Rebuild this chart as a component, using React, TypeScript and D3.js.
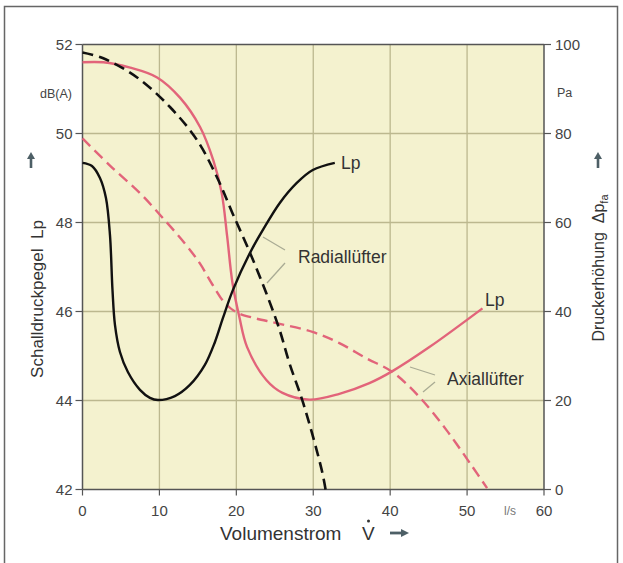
import React from "react";
import * as d3 from "d3";

// ---- data (x in l/s) ----
const xTicks = [0, 10, 20, 30, 40, 50, 60];
const leftTicks = [42, 44, 46, 48, 50, 52];
const rightTicks = [0, 20, 40, 60, 80, 100];

// Radiallüfter sound level Lp (dB(A))
const radialLpX = [0, 1.23, 2.27, 3.05, 3.57, 3.9, 4.22, 4.87, 5.9, 7.47, 8.77, 9.81, 12.01, 13.96, 15.91, 17.21, 18.25, 19.55, 21.75, 23.44, 25.65, 27.86, 29.94, 32.8];
const radialLpY = [49.34, 49.27, 49.0, 48.55, 47.72, 46.48, 45.7, 45.09, 44.64, 44.24, 44.06, 44.01, 44.1, 44.35, 44.8, 45.31, 45.85, 46.48, 47.31, 47.83, 48.44, 48.89, 49.18, 49.34];

// Radiallüfter pressure (Pa)
const radialPX = [0, 2.7, 7.1, 11.4, 14.9, 17.5, 19.5, 21.8, 23.9, 25.6, 26.9, 28.7, 31.1, 31.6];
const radialPY = [98.2, 96.9, 92.6, 85.9, 78.5, 70.1, 62.1, 53.1, 44.1, 36.0, 28.4, 19.4, 4.4, 0];

// Axiallüfter sound level Lp (dB(A))
const axialLpX = [0, 2.7, 6.2, 9.7, 12.7, 15.3, 17.0, 18.1, 18.8, 19.5, 20.4, 21.4, 23.9, 26.0, 29.5, 33.4, 37.3, 40.3, 45.1, 52.0];
const axialLpY = [51.6, 51.6, 51.48, 51.26, 50.8, 50.14, 49.4, 48.66, 47.7, 46.64, 45.87, 45.2, 44.46, 44.17, 44.02, 44.15, 44.39, 44.66, 45.2, 46.07];

// Axiallüfter pressure (Pa)
const axialPX = [0, 3.57, 7.47, 10.71, 13.31, 15.26, 16.95, 18.51, 20.06, 22.4, 25.2, 29.9, 33.4, 36.9, 40.3, 43.8, 47.3, 50.7, 52.6];
const axialPY = [78.9, 72.8, 66.6, 60.5, 55.3, 50.8, 45.9, 41.9, 39.8, 38.5, 37.4, 35.4, 32.9, 29.5, 26.4, 20.8, 13.4, 5.1, 0.3];

const RED = "#e2647a";
const GRID = "#bcb88f";
const AXIS = "#555";
const TXT = "#333";
const ARROW = "#4d5f66";
const FONT = "'Liberation Sans', Arial, Helvetica, sans-serif";

export default function App() {
  const x = d3.scaleLinear().domain([0, 60]).range([82.5, 544]);
  const yL = d3.scaleLinear().domain([42, 52]).range([489.5, 44.5]);
  const yR = d3.scaleLinear().domain([0, 100]).range([489.5, 44.5]);

  const curve = d3.curveCatmullRom.alpha(0.5);
  const lineL = d3
    .line<[number, number]>()
    .x((d) => x(d[0]))
    .y((d) => yL(d[1]))
    .curve(curve);
  const lineR = d3
    .line<[number, number]>()
    .x((d) => x(d[0]))
    .y((d) => yR(d[1]))
    .curve(curve);

  const zip = (a: number[], b: number[]) => a.map((v, i) => [v, b[i]] as [number, number]);

  const x0 = x(0), x1 = x(60), yTop = yL(52), yBot = yL(42);

  return (
    <svg
      width={623}
      height={563}
      style={{ position: "absolute", left: 0, top: 0, background: "#fff" }}
      fontFamily={FONT}
    >
      {/* outer frame */}
      <rect x={4.5} y={6.5} width={613} height={600} fill="none" stroke="#666" strokeWidth={1.5} />

      {/* plot background */}
      <rect x={x0} y={yTop} width={x1 - x0} height={yBot - yTop} fill="#f4f2cf" />

      {/* grid */}
      {xTicks.slice(1, -1).map((t) => (
        <line key={"gx" + t} x1={x(t)} x2={x(t)} y1={yTop} y2={yBot} stroke={GRID} strokeWidth={1.3} />
      ))}
      {leftTicks.slice(1, -1).map((t) => (
        <line key={"gy" + t} x1={x0} x2={x1} y1={yL(t)} y2={yL(t)} stroke={GRID} strokeWidth={1.3} />
      ))}

      {/* axes */}
      <line x1={x0} x2={x0} y1={yTop} y2={yBot} stroke={AXIS} strokeWidth={1.5} />
      <line x1={x1} x2={x1} y1={yTop} y2={yBot} stroke={AXIS} strokeWidth={1.5} />
      <line x1={x0} x2={x1} y1={yBot} y2={yBot} stroke={AXIS} strokeWidth={1.5} />
      <line x1={x0} x2={x1} y1={yTop} y2={yTop} stroke={AXIS} strokeWidth={1.5} />

      {leftTicks.map((t) => (
        <g key={"lt" + t}>
          <line x1={x0 - 7} x2={x0} y1={yL(t)} y2={yL(t)} stroke={AXIS} strokeWidth={1.2} />
          <text x={x0 - 10} y={yL(t)} dy="0.36em" textAnchor="end" fontSize={15} fill="#444">
            {t}
          </text>
        </g>
      ))}
      {rightTicks.map((t) => (
        <g key={"rt" + t}>
          <line x1={x1} x2={x1 + 7} y1={yR(t)} y2={yR(t)} stroke={AXIS} strokeWidth={1.2} />
          <text x={x1 + 11} y={yR(t)} dy="0.36em" textAnchor="start" fontSize={15} fill="#444">
            {t}
          </text>
        </g>
      ))}
      {xTicks.map((t) => (
        <g key={"xt" + t}>
          <line x1={x(t)} x2={x(t)} y1={yBot} y2={yBot + 6} stroke={AXIS} strokeWidth={1.2} />
          <text x={x(t)} y={yBot + 21} dy="0.36em" textAnchor="middle" fontSize={15} fill="#444">
            {t}
          </text>
        </g>
      ))}
      <text x={510} y={yBot + 21} dy="0.36em" textAnchor="middle" fontSize={12} fill="#777">
        l/s
      </text>

      {/* units */}
      <text x={72} y={93} dy="0.36em" textAnchor="end" fontSize={12.5} fill="#444">
        dB(A)
      </text>
      <text x={557} y={92} dy="0.36em" textAnchor="start" fontSize={12.5} fill="#444">
        Pa
      </text>

      {/* axis titles */}
      <text
        transform="translate(43,299) rotate(-90)"
        textAnchor="middle"
        fontSize={17}
        fill={TXT}
        xmlSpace="preserve"
      >
        Schalldruckpegel  Lp
      </text>
      <g transform="translate(31,160)">
        <path d="M0,8 L0,-2" stroke={ARROW} strokeWidth={2.6} />
        <path d="M-4,-1 L0,-8 L4,-1 Z" fill={ARROW} />
      </g>

      <text
        transform="translate(604,268) rotate(-90)"
        textAnchor="middle"
        fontSize={16}
        fill={TXT}
        xmlSpace="preserve"
      >
        Druckerhöhung  Δp
        <tspan fontSize={11} dy={4}>fa</tspan>
      </text>
      <g transform="translate(598,160)">
        <path d="M0,8 L0,-2" stroke={ARROW} strokeWidth={2.6} />
        <path d="M-4,-1 L0,-8 L4,-1 Z" fill={ARROW} />
      </g>

      <text x={220} y={540} fontSize={19} fill={TXT}>
        Volumenstrom
      </text>
      <text x={362} y={540} fontSize={19} fill={TXT}>
        V
      </text>
      <circle cx={368.5} cy={521} r={1.5} fill={TXT} />
      <g transform="translate(400,533)">
        <path d="M-10,0 L2,0" stroke={ARROW} strokeWidth={2.8} />
        <path d="M1,-4 L9,0 L1,4 Z" fill={ARROW} />
      </g>

      {/* curves */}
      <path d={lineR(zip(axialPX, axialPY)) || ""} fill="none" stroke={RED} strokeWidth={2.4} strokeDasharray="11,6" />
      <path d={lineL(zip(axialLpX, axialLpY)) || ""} fill="none" stroke={RED} strokeWidth={2.4} />
      <path d={lineR(zip(radialPX, radialPY)) || ""} fill="none" stroke="#111" strokeWidth={2.6} strokeDasharray="11,6" />
      <path d={lineL(zip(radialLpX, radialLpY)) || ""} fill="none" stroke="#111" strokeWidth={2.4} />

      {/* leader lines */}
      <g stroke="#a9ab94" strokeWidth={1.3}>
        <line x1={263} y1={237} x2={285} y2={250} />
        <line x1={285} y1={263} x2={267} y2={283} />
        <line x1={410} y1={367} x2={435} y2={375} />
        <line x1={435} y1={382} x2={423} y2={392} />
      </g>

      {/* labels */}
      <text x={298} y={263} fontSize={17.5} fill={TXT}>
        Radiallüfter
      </text>
      <text x={447} y={385} fontSize={17.5} fill={TXT}>
        Axiallüfter
      </text>
      <text x={341} y={169} fontSize={17.5} fill={TXT}>
        Lp
      </text>
      <text x={485} y={306} fontSize={17.5} fill={TXT}>
        Lp
      </text>
    </svg>
  );
}
